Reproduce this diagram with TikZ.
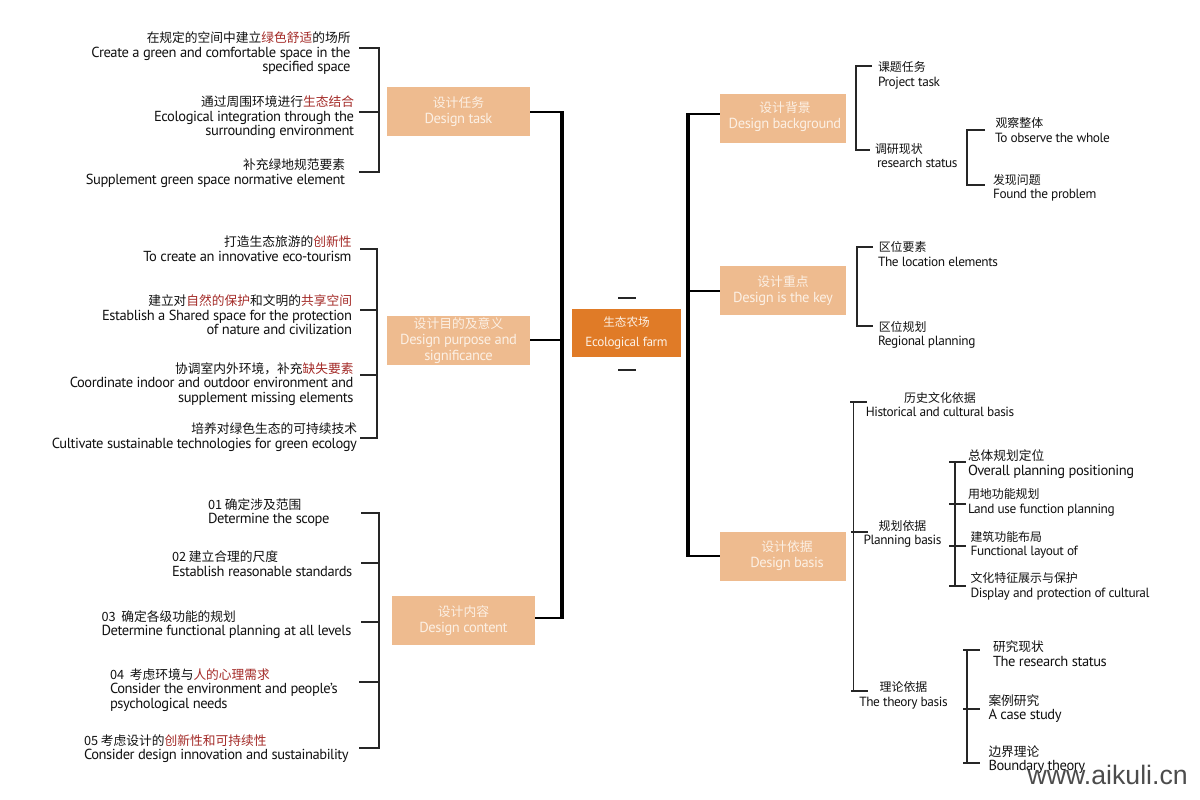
\documentclass[tikz,border=0pt]{standalone}
\usepackage{fontspec}
\setmainfont[LetterSpace=-3]{PT Sans}
\newfontfamily\zhf{Noto Sans CJK SC}
\newfontfamily\wmf{Liberation Sans}
\newcommand{\zhs}{8.95}
\newcommand{\zh}[1]{{\zhf\fontsize{\zhs}{10.9}\selectfont #1}}
\definecolor{boxc}{HTML}{EEBB8F}
\definecolor{rootc}{HTML}{E07B27}
\definecolor{redc}{HTML}{A32A27}
\definecolor{inkc}{HTML}{111111}
\definecolor{boxt}{HTML}{FCF0E4}
\newcommand{\rd}[1]{\textcolor{redc}{#1}}
\tikzset{
 lab/.style={inner sep=0pt,outer sep=0pt,text=inkc,font=\fontsize{10}{10.9}\selectfont},
 big/.style={font=\fontsize{10.9}{10.9}\selectfont,execute at begin node={\renewcommand{\zhs}{9.55}}},
 labr/.style={lab,big,align=right,anchor=east},
 labl/.style={lab,align=left,anchor=west},
 labc/.style={lab,align=center,anchor=center},
 pbox/.style={fill=boxc,inner sep=0pt,outer sep=0pt,text=boxt,align=center,font=\fontsize{10.9}{12}\selectfont,anchor=center,execute at begin node={\renewcommand{\zhs}{9.6}}},
 rootbox/.style={pbox,fill=rootc,font=\fontsize{9.9}{15}\selectfont,execute at begin node={\renewcommand{\zhs}{8.7}}},
 trunk/.style={line width=2.5pt,draw=black,line cap=butt,line join=miter},
 branch/.style={line width=1.5pt,draw=black},
 bracket/.style={line width=0.9pt,draw=black!85,line join=miter},
 bracketb/.style={line width=1.3pt,draw=black!85,line join=miter},
}
\begin{document}
\begin{tikzpicture}[x=0.75pt,y=-0.75pt]
\useasboundingbox (0,0) rectangle (1200,800);
% boxes
\node[rootbox,minimum width=81.75pt,minimum height=36pt] (root) at (626.5,333) {\zh{\textcolor{boxt}{生态农场}}\\Ecological farm};
\node[pbox,minimum width=107.25pt,minimum height=36.75pt] (task) at (458.5,111) {\rule{0pt}{9.5pt}\zh{设计任务}\\Design task};
\node[pbox,minimum width=107.25pt,minimum height=36.75pt] (purpose) at (458.5,340) {\rule{0pt}{9.7pt}\zh{设计目的及意义}\\Design purpose and\\significance};
\node[pbox,minimum width=107.25pt,minimum height=36.75pt] (content) at (463.5,620) {\rule{0pt}{9.5pt}\zh{设计内容}\\Design content};
\node[pbox,minimum width=94.5pt,minimum height=36.75pt] (bg) at (783,118.5) {\hspace*{3pt}\zh{设计背景}\\\hspace*{3pt}\rule[-4.5pt]{0pt}{1pt}Design background};
\node[pbox,minimum width=94.5pt,minimum height=36.75pt] (key) at (783,290.5) {\zh{设计重点}\\Design is the key};
\node[pbox,minimum width=94.5pt,minimum height=36.75pt] (basis) at (783,556) {\hspace*{6pt}\zh{设计依据}\\\hspace*{6pt}Design basis};
% root dashes
\coordinate (d1a) at (618,298); \coordinate (d1b) at (636,298);
\coordinate (d2a) at (618,370); \coordinate (d2b) at (636,370);
\draw[line width=1pt,draw=black!85] (d1a) -- (d1b) (d2a) -- (d2b);
% left trunk
\coordinate (ls1) at (562,112); \coordinate (ls2) at (562,340); \coordinate (ls3) at (562,618);
\coordinate (ts) at (task.east |- ls1); \coordinate (cs) at (content.east |- ls3);
\draw[trunk] (ls1) -- (ls3);
\draw[branch] (ts) -- ([xshift=1.2pt]ls1);
\draw[branch] ([xshift=1.2pt]ls3) -- (cs);
\draw[branch] (purpose.east) -- (ls2);
% right trunk
\coordinate (rs1) at (688,114); \coordinate (rs2) at (688,291); \coordinate (rs3) at (688,556);
\draw[trunk] (rs1) -- (rs3);
\draw[branch] ([xshift=-1.2pt]rs1) -- (bg.west |- rs1);
\draw[branch] (rs2) -- (key.west |- rs2);
\draw[branch] ([xshift=-1.2pt]rs3) -- (basis.west);
% task labels
\node[labr] (t1) at (350.5,53.5) {\zh{在规定的空间中建立\rd{绿色舒适}的场所}\\Create a green and comfortable space in the\\specified space};
\node[labr] (t2) at (354,117.5) {\zh{通过周围环境进行\rd{生态结合}}\\Ecological integration through the\\surrounding environment};
\node[labr] (t3) at (345,173) {\zh{补充绿地规范要素}\\Supplement green space normative element};
\coordinate (t1a) at (359,48); \coordinate (t1b) at (379,48);
\coordinate (t2a) at (359,112); \coordinate (t2b) at (379,112);
\coordinate (t3a) at (359,172); \coordinate (t3b) at (379,172);
\draw[bracket] (t1a) -- (t1b) -- (t3b) -- (t3a) (t2a) -- (t2b);
% purpose labels
\node[labr] (p1) at (351.5,248.5) {\zh{打造生态旅游的\rd{创新性}}\\To create an innovative eco-tourism};
\node[labr] (p2) at (352,315) {\zh{建立对\rd{自然的保护}和文明的\rd{共享空间}}\\Establish a Shared space for the protection\\of nature and civilization};
\node[labr] (p3) at (353.5,384) {\zh{协调室内外环境，补充\rd{缺失要素}}\\Coordinate indoor and outdoor environment and\\supplement missing elements};
\node[labr] (p4) at (357,437) {\zh{培养对绿色生态的可持续技术}\\Cultivate sustainable technologies for green ecology};
\coordinate (p1a) at (360,249); \coordinate (p1b) at (377,249);
\coordinate (p2a) at (360,310); \coordinate (p2b) at (377,310);
\coordinate (p3a) at (360,375); \coordinate (p3b) at (377,375);
\coordinate (p4a) at (360,438); \coordinate (p4b) at (377,438);
\draw[bracket] (p1a) -- (p1b) -- (p4b) -- (p4a) (p2a) -- (p2b) (p3a) -- (p3b);
% content labels
\node[labl,big] (c1) at (208,512.5) {\zh{01 确定涉及范围}\\Determine the scope};
\node[labl,big] (c2) at (172,563.5) {\zh{02 建立合理的尺度}\\Establish reasonable standards};
\node[labl,big] (c3) at (101.5,624.5) {\zh{03\ \ 确定各级功能的规划}\\Determine functional planning at all levels};
\node[labl,big] (c4) at (110,690) {\zh{04\ \ 考虑环境与\rd{人的心理需求}}\\Consider the environment and people’s\\psychological needs};
\node[labl,big] (c5) at (84,748.5) {\zh{05 考虑设计的\rd{创新性和可持续性}}\\Consider design innovation and sustainability};
\coordinate (c1a) at (361,513); \coordinate (c1b) at (379,513);
\coordinate (c2a) at (361,563); \coordinate (c2b) at (379,563);
\coordinate (c3a) at (361,622); \coordinate (c3b) at (379,622);
\coordinate (c4a) at (359,682); \coordinate (c4b) at (379,682);
\coordinate (c5a) at (359,748); \coordinate (c5b) at (379,748);
\draw[bracket] (c1a) -- (c1b) -- (c5b) -- (c5a) (c2a) -- (c2b) (c3a) -- (c3b) (c4a) -- (c4b);
% background labels
\node[labl] (r1) at (878,75.5) {\zh{课题任务}\\Project task};
\node[labl] (r2) at (875,155.5) {\zh{调研现状}\\\hspace*{1.5pt}research status};
\node[labl] (r3) at (995,130) {\zh{\hspace*{.4pt}观察整体}\\To observe the whole};
\node[labl] (r4) at (993,188) {\zh{发现问题}\\Found the problem};
\coordinate (r1a) at (872,66); \coordinate (r1b) at (856,66);
\coordinate (r2a) at (870,150); \coordinate (r2b) at (856,150);
\draw[bracket] (r1a) -- (r1b) -- (r2b) -- (r2a);
\coordinate (r3a) at (985,130); \coordinate (r3b) at (967,130);
\coordinate (r4a) at (985,185); \coordinate (r4b) at (967,185);
\draw[bracket] (r3a) -- (r3b) -- (r4b) -- (r4a);
% key labels
\node[labl] (k1) at (878,254) {\zh{\hspace*{.6pt}区位要素}\\The location elements};
\node[labl] (k2) at (878,335) {\zh{\hspace*{.6pt}区位规划}\\Regional planning};
\coordinate (k1a) at (873,247); \coordinate (k1b) at (857,247);
\coordinate (k2a) at (873,326); \coordinate (k2b) at (857,326);
\draw[bracket] (k1a) -- (k1b) -- (k2b) -- (k2a);
% basis labels
\node[labc] (b1) at (940,404.5) {\zh{历史文化依据}\\Historical and cultural basis};
\node[labc] (b2) at (902.5,534) {\zh{规划依据}\\Planning basis};
\node[labc] (b3) at (903.5,695.5) {\zh{理论依据}\\The theory basis};
\coordinate (b1a) at (850,402); \coordinate (b1b) at (867,402); \coordinate (b1s) at (853.5,402);
\coordinate (b2a) at (851,532); \coordinate (b2b) at (868,532);
\coordinate (b3a) at (851,691); \coordinate (b3b) at (868,691); \coordinate (b3s) at (853.5,691);
\draw[bracket] (b1a) -- (b1b) (b2a) -- (b2b) (b3a) -- (b3b) (b1s) -- (b3s);
% planning sublabels
\node[labl,big] (s1) at (968,464) {\zh{总体规划定位}\\Overall planning positioning};
\node[labl] (s2) at (968,502.5) {\zh{用地功能规划}\\Land use function planning};
\node[labl] (s3) at (970.5,545) {\zh{建筑功能布局}\\Functional layout of};
\node[labl] (s4) at (970.5,586.5) {\zh{文化特征展示与保护}\\Display and protection of cultural};
\coordinate (s1a) at (949,462); \coordinate (s1b) at (966,462); \coordinate (s1s) at (955,462);
\coordinate (s2a) at (949,504); \coordinate (s2b) at (966,504);
\coordinate (s3a) at (949,546); \coordinate (s3b) at (966,546);
\coordinate (s4a) at (949,586); \coordinate (s4b) at (966,586); \coordinate (s4s) at (955,586);
\draw[bracketb] (s1a) -- (s1b) (s2a) -- (s2b) (s3a) -- (s3b) (s4a) -- (s4b) (s1s) -- (s4s);
% theory sublabels
\node[labl,big] (h1) at (993,653.5) {\zh{研究现状}\\The research status};
\node[labl,big] (h2) at (988.5,708.5) {\zh{案例研究}\\A case study};
\node[labl,big] (h3) at (988.5,759.5) {\zh{边界理论}\\Boundary theory};
\coordinate (h1a) at (963,650); \coordinate (h1b) at (980,650); \coordinate (h1s) at (967,650);
\coordinate (h2a) at (963,709); \coordinate (h2b) at (980,709);
\coordinate (h3a) at (963,763); \coordinate (h3b) at (980,763); \coordinate (h3s) at (967,763);
\draw[bracketb] (h1a) -- (h1b) (h2a) -- (h2b) (h3a) -- (h3b) (h1s) -- (h3s);
% watermark
\node[inner sep=0pt,anchor=east,text=black!70,font=\wmf\fontsize{20}{22}\selectfont] (wm) at (1188,775) {www.aikuli.cn};
\end{tikzpicture}
\end{document}
